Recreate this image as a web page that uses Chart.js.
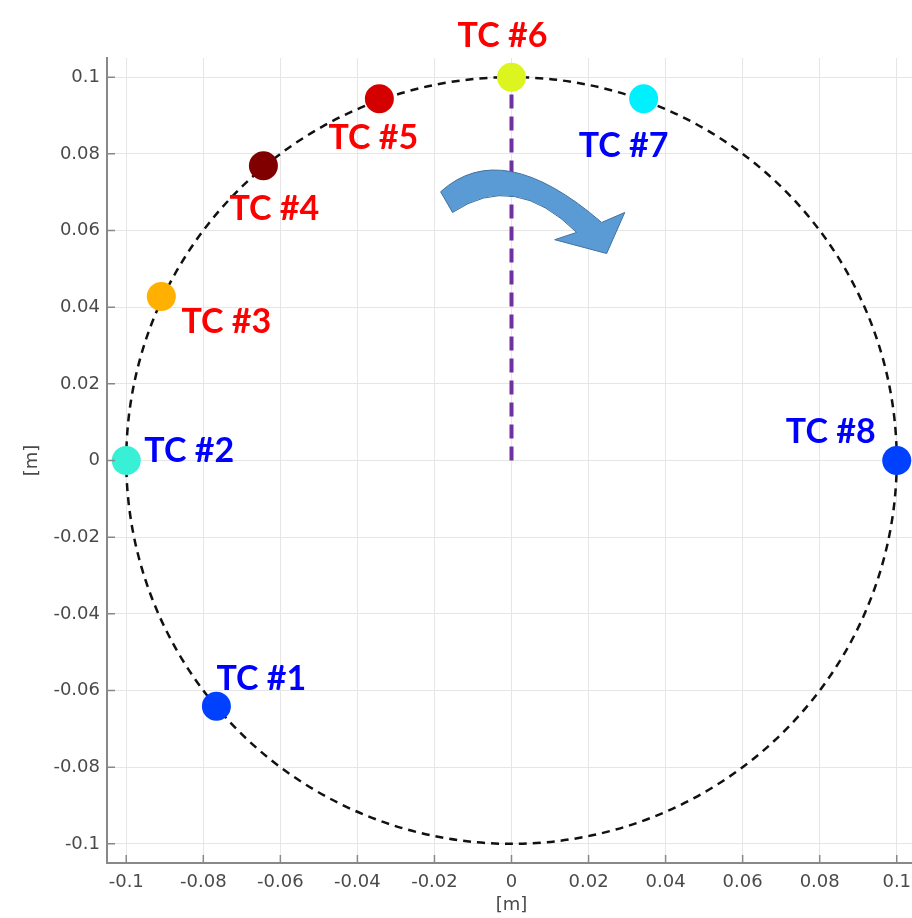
<!DOCTYPE html>
<html>
<head>
<meta charset="utf-8">
<script src="https://cdn.jsdelivr.net/npm/chart.js@4/dist/chart.umd.min.js"></script>
<style>
  html, body { margin: 0; padding: 0; background: #fff; overflow: hidden; }
  #wrap { width: 920px; height: 918px; }
</style>
</head>
<body>
<div id="wrap"><canvas id="myChart1" width="920" height="918"></canvas></div>
<script>
// thermocouple positions [m]
const tcNames = ["TC #1", "TC #2", "TC #3", "TC #4", "TC #5", "TC #6", "TC #7", "TC #8"];
const tcX = [-0.0766, -0.1, -0.0909, -0.0644, -0.0343, 0, 0.0343, 0.1];
const tcY = [-0.0641, 0, 0.0428, 0.0769, 0.0944, 0.1, 0.0944, 0];
const tcColors = ['#0040ff', '#38f0d6', '#ffb000', '#800000', '#d40000', '#dcf51e', '#00f0ff', '#0040ff'];
const labelColors = ['#0000ff', '#0000ff', '#ff0000', '#ff0000', '#ff0000', '#ff0000', '#0000ff', '#0000ff'];
// label offsets from marker centre, px
const labelDx = [45, 63, 65, 11, -6, -9, -20, -66];
const labelDy = [-27, -9, 26, 43, 39, -41, 47, -28];

const circleRadius = 0.1;
const radialX = [0, 0];
const radialY = [0, 0.1];
const tickValues = [-0.1, -0.08, -0.06, -0.04, -0.02, 0, 0.02, 0.04, 0.06, 0.08, 0.1];

// rotation arrow outline, in data units
const arrowPts = {
    outerStart: [-0.0184, 0.0701], outerCtrl: [-0.0025, 0.0846], outerEnd: [0.0234, 0.0621],
    headTop: [0.0294, 0.0647], tip: [0.0247, 0.0540], barb: [0.0112, 0.0576],
    innerEnd: [0.0169, 0.0595], innerCtrl: [0.0008, 0.0756], innerStart: [-0.0153, 0.0647]
};

const extras = {
    id: 'extras',
    beforeDatasetsDraw(chart) {
        const ctx = chart.ctx, xs = chart.scales.x, ys = chart.scales.y;
        const cx = xs.getPixelForValue(0), cy = ys.getPixelForValue(0);
        const rx = xs.getPixelForValue(circleRadius) - cx;
        const ry = cy - ys.getPixelForValue(circleRadius);
        ctx.save();
        ctx.strokeStyle = '#111';
        ctx.lineWidth = 2.5;
        ctx.setLineDash([8, 6]);
        ctx.beginPath();
        ctx.ellipse(cx, cy, rx, ry, 0, 0, Math.PI * 2);
        ctx.stroke();
        ctx.restore();
    },
    afterDatasetsDraw(chart) {
        const ctx = chart.ctx, xs = chart.scales.x, ys = chart.scales.y;
        const p = k => [xs.getPixelForValue(arrowPts[k][0]), ys.getPixelForValue(arrowPts[k][1])];
        ctx.save();
        ctx.beginPath();
        ctx.moveTo(...p('outerStart'));
        ctx.quadraticCurveTo(...p('outerCtrl'), ...p('outerEnd'));
        ctx.lineTo(...p('headTop'));
        ctx.lineTo(...p('tip'));
        ctx.lineTo(...p('barb'));
        ctx.lineTo(...p('innerEnd'));
        ctx.quadraticCurveTo(...p('innerCtrl'), ...p('innerStart'));
        ctx.closePath();
        ctx.fillStyle = '#5b9bd5';
        ctx.fill();
        ctx.strokeStyle = '#41719c';
        ctx.lineWidth = 1;
        ctx.stroke();

        // TC labels
        ctx.font = 'bold 34px Lato';
        ctx.textAlign = 'center';
        ctx.textBaseline = 'middle';
        const meta = chart.getDatasetMeta(0);
        meta.data.forEach((pt, i) => {
            ctx.fillStyle = labelColors[i];
            ctx.fillText(tcNames[i], pt.x + labelDx[i], pt.y + labelDy[i]);
        });

        // inward tick marks
        ctx.strokeStyle = '#888';
        ctx.lineWidth = 1.5;
        ctx.setLineDash([]);
        ctx.beginPath();
        tickValues.forEach(v => {
            const px = xs.getPixelForValue(v);
            ctx.moveTo(px, xs.top); ctx.lineTo(px, xs.top - 8);
            const py = ys.getPixelForValue(v);
            ctx.moveTo(ys.right, py); ctx.lineTo(ys.right + 8, py);
        });
        ctx.stroke();
        ctx.restore();
    }
};

const fmt = v => String(+(+v).toFixed(2));
const setTicks = s => { s.ticks = tickValues.map(v => ({ value: v })); };

const config = {
    type: 'scatter',
    data: {
        datasets: [{
            data: tcX.map((x, i) => ({ x: x, y: tcY[i] })),
            backgroundColor: tcColors,
            borderWidth: 0,
            pointRadius: 14.5,
            pointHoverRadius: 14.5
        }, {
            type: 'line',
            data: radialX.map((x, i) => ({ x: x, y: radialY[i] })),
            borderColor: '#7030a0',
            borderWidth: 4,
            borderDash: [14, 8],
            pointRadius: 0,
            fill: false
        }]
    },
    options: {
        responsive: false,
        animation: false,
        layout: { autoPadding: false, padding: { top: 58, right: 4, left: 0, bottom: 0 } },
        scales: {
            x: {
                min: -0.105,
                max: 0.105,
                afterBuildTicks: setTicks,
                afterFit: s => { s.height = 55; s.paddingLeft = 0; s.paddingRight = 0; },
                grid: { color: '#e6e6e6', drawTicks: false },
                border: { color: '#888', width: 2 },
                ticks: { callback: fmt, color: '#4a4a4a', padding: 9, font: { family: 'DejaVu Sans', size: 18 }, maxRotation: 0 },
                title: { display: true, text: '[m]', color: '#4a4a4a', font: { family: 'DejaVu Sans', size: 18 }, padding: { top: 2, bottom: 2 } }
            },
            y: {
                min: -0.105,
                max: 0.105,
                afterBuildTicks: setTicks,
                afterFit: s => { s.width = 107; s.paddingTop = 0; s.paddingBottom = 0; },
                grid: { color: '#e6e6e6', drawTicks: false },
                border: { color: '#888', width: 2 },
                ticks: { callback: fmt, color: '#4a4a4a', padding: 7, font: { family: 'DejaVu Sans', size: 18 } },
                title: { display: true, text: '[m]', color: '#4a4a4a', font: { family: 'DejaVu Sans', size: 18 }, padding: { top: 22, bottom: 0 } }
            }
        },
        plugins: {
            legend: { display: false },
            tooltip: { enabled: false }
        }
    },
    plugins: [extras]
};

document.addEventListener("DOMContentLoaded", function() {
    var myChart = new Chart(document.getElementById('myChart1'), config);
});
</script>
</body>
</html>
